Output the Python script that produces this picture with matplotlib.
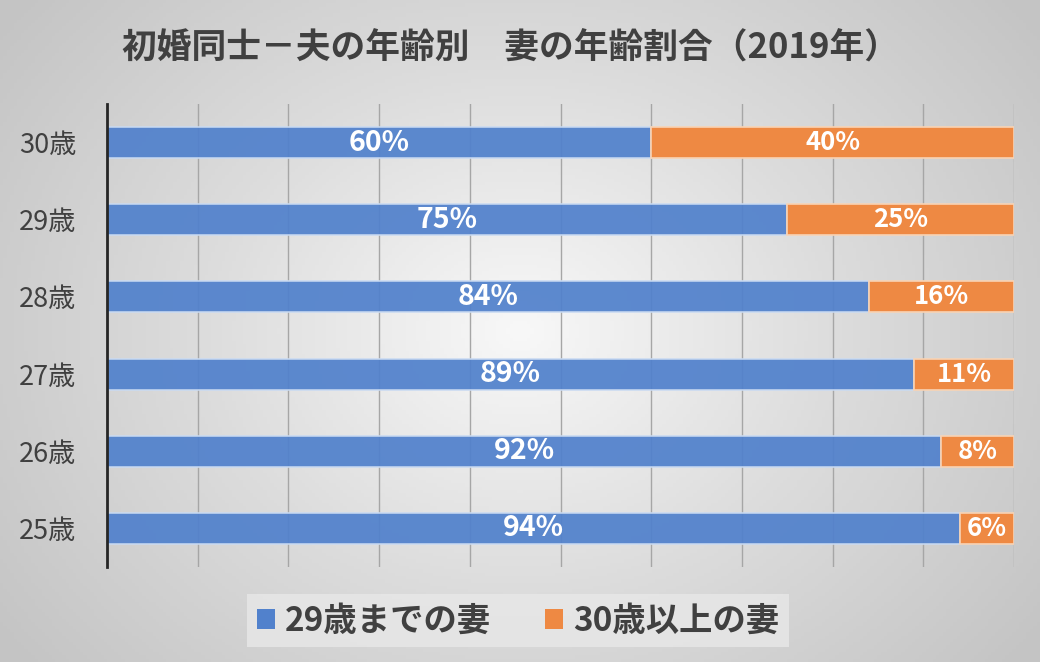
import numpy as np
import matplotlib as mpl
import matplotlib.pyplot as plt
from matplotlib.patches import Patch

# Data: share of wives by age group, per husband's age (first marriage couples, 2019)
husband_ages = ["25歳", "26歳", "27歳", "28歳", "29歳", "30歳"]
wife_under29 = [94, 92, 89, 84, 75, 60]
wife_over30 = [6, 8, 11, 16, 25, 40]
series_names = ["29歳までの妻", "30歳以上の妻"]
title = "初婚同士－夫の年齢別　妻の年齢割合（2019年）"

blue = "#5181CC"
orange = "#EE8943"

plt.rcParams['font.family'] = ['Noto Sans CJK JP', 'DejaVu Sans']

fig = plt.figure(figsize=(10.4, 6.62), dpi=100)

# radial grey background
bg = fig.add_axes([0, 0, 1, 1], zorder=-10)
yy, xx = np.mgrid[0:1:200j, 0:1:300j]
r = np.sqrt(((xx - 0.5) / 0.62) ** 2 + ((yy - 0.5) / 0.8) ** 2)
bg.imshow(np.clip(r, 0, 1), cmap=mpl.colors.LinearSegmentedColormap.from_list(
    "bg", ["#F8F8F8", "#DCDCDC", "#C4C4C4"]), vmin=0, vmax=1,
    extent=[0, 1, 0, 1], aspect="auto", origin="lower")
bg.set_axis_off()

ax = fig.add_axes([0.1029, 0.1435, 0.8721, 0.6994])
ax.patch.set_alpha(0)

y = np.arange(len(husband_ages))
ax.barh(y, wife_under29, height=0.4, color=blue, edgecolor="#C9DAF2",
        linewidth=1.2, alpha=0.93, zorder=2)
ax.barh(y, wife_over30, left=wife_under29, height=0.4, color=orange,
        edgecolor="#F8D3B4", linewidth=1.2, zorder=2)

for i in range(len(y)):
    ax.text(wife_under29[i] / 2, y[i], f"{wife_under29[i]}%", ha="center",
            va="center", color="white", fontsize=20.5, fontweight="bold", zorder=3)
    ax.text(wife_under29[i] + wife_over30[i] / 2, y[i], f"{wife_over30[i]}%",
            ha="center", va="center", color="white", fontsize=18.5,
            fontweight="bold", zorder=3)

ax.set_xlim(0, 100)
ax.set_ylim(-0.5, len(y) - 0.5)
ax.set_xticks(np.arange(0, 101, 10))
ax.set_xticklabels([])
ax.tick_params(axis="x", length=0)
ax.grid(axis="x", color="#A6A6A6", linewidth=1, zorder=1)
ax.set_axisbelow(True)
ax.set_yticks(y)
ax.set_yticklabels(husband_ages, fontsize=19.5, color="#404040")
ax.tick_params(axis="y", length=0, pad=22)
for s in ["top", "right", "bottom"]:
    ax.spines[s].set_visible(False)
ax.spines["left"].set_color("#262626")
ax.spines["left"].set_linewidth(2)

fig.text(0.491, 0.928, title, ha="center", va="center", fontsize=25,
         fontweight="bold", color="#404040")

handles = [Patch(facecolor=blue), Patch(facecolor=orange)]
leg = fig.legend(handles, series_names, loc="center", bbox_to_anchor=(0.498, 0.062),
                 ncol=2, fontsize=24, frameon=True, fancybox=False,
                 handlelength=0.55, handleheight=0.55, handletextpad=0.3,
                 columnspacing=1.6, borderpad=0.3, borderaxespad=0)
leg.get_frame().set_facecolor("#E8E8E8")
leg.get_frame().set_edgecolor("none")
leg.get_frame().set_alpha(0.8)
for t in leg.get_texts():
    t.set_fontweight("bold")
    t.set_color("#404040")

fig.savefig("out.png", dpi=100)
